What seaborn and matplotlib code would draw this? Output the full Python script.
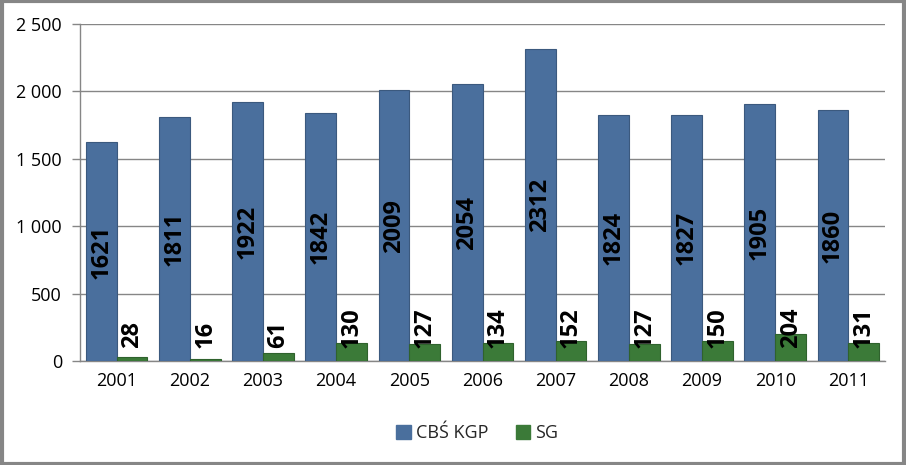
import matplotlib
matplotlib.use('Agg')
import matplotlib.pyplot as plt
import matplotlib.patches as mpatches
from matplotlib.ticker import FuncFormatter, FixedLocator
import pandas as pd
import seaborn as sns

# Data
years = ['2001', '2002', '2003', '2004', '2005', '2006', '2007', '2008', '2009', '2010', '2011']
cbs_kgp = [1621, 1811, 1922, 1842, 2009, 2054, 2312, 1824, 1827, 1905, 1860]
sg = [28, 16, 61, 130, 127, 134, 152, 127, 150, 204, 131]
series_names = ['CBŚ KGP', 'SG']

BLUE = '#4A6F9D'
GREEN = '#3B7A38'
GRID = '#868686'

sns.set_style('white')
plt.rcParams['font.family'] = ['Open Sans', 'DejaVu Sans']

df = pd.DataFrame({
    'year': years * 2,
    'value': cbs_kgp + sg,
    'series': [series_names[0]] * len(years) + [series_names[1]] * len(years),
})

fig = plt.figure(figsize=(9.06, 4.65), dpi=100)
ax = fig.add_axes([80 / 906, 104 / 465, 805 / 906, 337 / 465])

sns.barplot(data=df, x='year', y='value', hue='series', order=years,
            hue_order=series_names, palette=[BLUE, GREEN], width=0.84,
            saturation=1, errorbar=None, ax=ax, legend=False, zorder=3)

# darker edges on bars
for p in ax.patches:
    fc = p.get_facecolor()
    p.set_edgecolor(tuple(c * 0.8 for c in fc[:3]))
    p.set_linewidth(0.8)

ax.set_ylim(0, 2500)
ax.set_xlim(-0.5, len(years) - 0.5)
ax.set_yticks([0, 500, 1000, 1500, 2000, 2500])
ax.yaxis.set_major_formatter(FuncFormatter(lambda v, _: f'{int(v):,}'.replace(',', ' ')))
ax.yaxis.grid(True, color=GRID, linewidth=1)
ax.set_axisbelow(True)
ax.set_xlabel('')
ax.set_ylabel('')

for s in ['top', 'right']:
    ax.spines[s].set_visible(False)
for s in ['left', 'bottom']:
    ax.spines[s].set_color(GRID)
    ax.spines[s].set_linewidth(1)

ax.tick_params(axis='x', which='major', length=0, labelsize=13, pad=8, colors='black')
ax.xaxis.set_minor_locator(FixedLocator([i - 0.5 for i in range(len(years) + 1)]))
ax.tick_params(axis='x', which='minor', length=6, color=GRID, width=1, direction='out')
ax.tick_params(axis='y', length=6, color=GRID, width=1, labelsize=13, pad=7, labelcolor='black', left=True)

# value labels
bars = ax.patches
n = len(years)
for i, p in enumerate(bars[:n]):
    x = p.get_x() + p.get_width() / 2
    ax.text(x, cbs_kgp[i] / 2, str(cbs_kgp[i]), rotation=90, ha='center', va='center',
            fontsize=17, fontweight='bold', color='black', zorder=5)
for i, p in enumerate(bars[n:2 * n]):
    x = p.get_x() + p.get_width() / 2
    ax.annotate(str(sg[i]), (x, 0), xytext=(0, 9.5), textcoords='offset points',
                rotation=90, ha='center', va='bottom', fontsize=17,
                fontweight='bold', color='black', zorder=5)

handles = [mpatches.Patch(facecolor=BLUE, edgecolor=BLUE, label=series_names[0]),
           mpatches.Patch(facecolor=GREEN, edgecolor=GREEN, label=series_names[1])]
fig.legend(handles=handles, loc='center', bbox_to_anchor=(0.527, 0.069), ncol=2,
           frameon=False, fontsize=13, handlelength=0.8, handleheight=0.8,
           handletextpad=0.3, columnspacing=1.5)

# outer frame
fig.patches.append(mpatches.Rectangle((0.0017, 0.003), 0.9966, 0.994, transform=fig.transFigure,
                                      fill=False, edgecolor=GRID, linewidth=3, zorder=10))

fig.savefig('out.png', dpi=100)
